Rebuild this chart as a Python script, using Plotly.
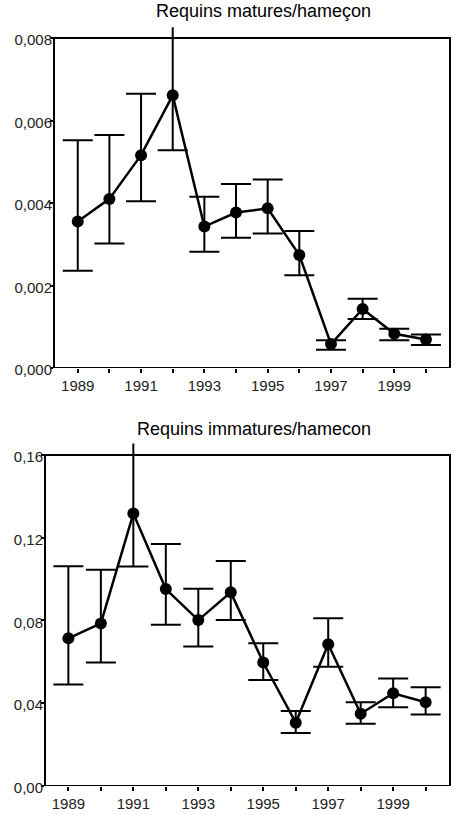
import plotly.graph_objects as go

years = list(range(1989, 2001))
year_labels = [str(y) if y % 2 else "" for y in years]

# Requins matures / hameçon : moyenne, borne haute, borne basse
mat = [0.00355, 0.00410, 0.00516, 0.00661, 0.00343, 0.00377, 0.00387, 0.00274, 0.00058, 0.00143, 0.00083, 0.00069]
mat_hi = [0.00552, 0.00565, 0.00665, 0.00830, 0.00415, 0.00446, 0.00457, 0.00332, 0.00067, 0.00168, 0.00095, 0.00081]
mat_lo = [0.00236, 0.00302, 0.00404, 0.00528, 0.00282, 0.00316, 0.00326, 0.00225, 0.00044, 0.00119, 0.00067, 0.00056]

# Requins immatures / hameçon
imm = [0.0714, 0.0786, 0.1317, 0.0952, 0.0802, 0.0936, 0.0597, 0.0306, 0.0685, 0.0349, 0.0448, 0.0405]
imm_hi = [0.1062, 0.1045, 0.1665, 0.1170, 0.0954, 0.1088, 0.0690, 0.0362, 0.0811, 0.0405, 0.0520, 0.0477]
imm_lo = [0.0491, 0.0597, 0.1061, 0.0779, 0.0674, 0.0802, 0.0512, 0.0256, 0.0576, 0.0301, 0.0381, 0.0346]

FONT = "Liberation Sans"
fig = go.Figure()


def add_panel(vals, hi, lo, xa, ya):
    fig.add_trace(go.Scatter(
        x=years, y=vals, mode="lines+markers", xaxis=xa, yaxis=ya, showlegend=False,
        line=dict(color="black", width=2.5),
        marker=dict(size=12, color="black"),
        error_y=dict(type="data", symmetric=False,
                     array=[h - v for h, v in zip(hi, vals)],
                     arrayminus=[v - l for v, l in zip(vals, lo)],
                     color="black", thickness=2, width=15),
    ))


add_panel(mat, mat_hi, mat_lo, "x", "y")
add_panel(imm, imm_hi, imm_lo, "x2", "y2")

xcommon = dict(tickvals=years, ticktext=year_labels, ticks="outside", ticklen=4,
               tickwidth=1.5, tickcolor="black", showline=False, showgrid=False,
               zeroline=False, automargin=False,
               tickfont=dict(family=FONT, size=15, color="#222"))
ycommon = dict(ticks="outside", ticklen=3, tickwidth=1.5, tickcolor="black",
               showline=False, showgrid=False, zeroline=False, automargin=False,
               ticklabelstandoff=-5, ticklabelshift=2,
               tickfont=dict(family=FONT, size=15, color="#222"))

# frame around each panel, from 0 to the top tick value
frames = [("x", "y", 0.008), ("x2", "y2", 0.16)]
shapes = [dict(type="rect", xref=f"{xa} domain", x0=0, x1=1, yref=ya, y0=0, y1=top,
               line=dict(color="black", width=2), layer="below")
          for xa, ya, top in frames]

fig.update_layout(
    width=462, height=815,
    margin=dict(l=0, r=0, t=0, b=0),
    paper_bgcolor="white", plot_bgcolor="white",
    separators=", ",
    shapes=shapes,
    xaxis=dict(domain=[54 / 462, 450 / 462], range=[1988.25, 2000.76], anchor="y", **xcommon),
    yaxis=dict(domain=[1 - 368 / 815, 1 - 27.3 / 815], range=[0, 0.00826], dtick=0.002,
               tickformat=".3f", anchor="x", **ycommon),
    xaxis2=dict(domain=[45 / 462, 450 / 462], range=[1988.28, 2000.75], anchor="y2", **xcommon),
    yaxis2=dict(domain=[1 - 786 / 815, 1 - 443.6 / 815], range=[0, 0.1655], dtick=0.04,
                tickformat=".2f", anchor="x2", **ycommon),
    annotations=[
        dict(text="Requins matures/hameçon", xref="paper", yref="paper",
             x=263 / 462, y=1 - 11 / 815, yanchor="middle", showarrow=False,
             font=dict(family=FONT, size=18, color="black")),
        dict(text="Requins immatures/hamecon", xref="paper", yref="paper",
             x=254 / 462, y=1 - 429 / 815, yanchor="middle", showarrow=False,
             font=dict(family=FONT, size=18, color="black")),
    ],
)

fig.write_html("out.html", config={"displayModeBar": False},
               post_script="document.body.style.margin = '0px';")
